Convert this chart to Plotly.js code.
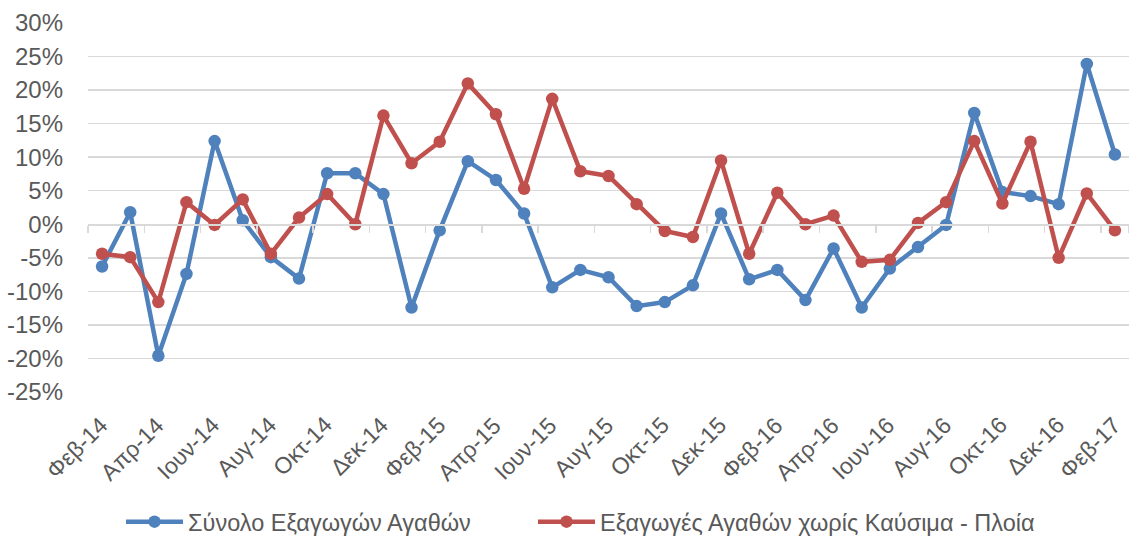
<!DOCTYPE html>
<html>
<head>
<meta charset="utf-8">
<script src="https://cdn.plot.ly/plotly-3.0.1.min.js"></script>
<style>
  html, body { margin: 0; padding: 0; background: #ffffff; }
  #chart { width: 1129px; height: 538px; }
</style>
</head>
<body>
<div id="chart"></div>
<script>
// Monthly export growth rates (%), Feb-14 to Feb-17
const months = [
  'Φεβ-14','Μαρ-14','Απρ-14','Μαϊ-14','Ιουν-14','Ιουλ-14','Αυγ-14','Σεπ-14','Οκτ-14','Νοε-14','Δεκ-14',
  'Ιαν-15','Φεβ-15','Μαρ-15','Απρ-15','Μαϊ-15','Ιουν-15','Ιουλ-15','Αυγ-15','Σεπ-15','Οκτ-15','Νοε-15','Δεκ-15',
  'Ιαν-16','Φεβ-16','Μαρ-16','Απρ-16','Μαϊ-16','Ιουν-16','Ιουλ-16','Αυγ-16','Σεπ-16','Οκτ-16','Νοε-16','Δεκ-16',
  'Ιαν-17','Φεβ-17'
];

const totalExports = [
  -6.3, 1.8, -19.6, -7.4, 12.4, 0.6, -4.9, -8.1, 7.6, 7.6, 4.5,
  -12.4, -0.9, 9.4, 6.6, 1.6, -9.4, -6.8, -7.9, -12.2, -11.6, -9.1, 1.6,
  -8.2, -6.8, -11.3, -3.6, -12.4, -6.6, -3.4, -0.1, 16.6, 4.8, 4.2, 3.0,
  23.9, 10.4
];

const exportsExFuelShips = [
  -4.4, -4.9, -11.6, 3.3, -0.1, 3.7, -4.4, 1.0, 4.5, 0.0, 16.2,
  9.1, 12.3, 21.0, 16.4, 5.3, 18.7, 7.9, 7.2, 3.0, -1.0, -1.9, 9.5,
  -4.4, 4.7, 0.0, 1.3, -5.6, -5.3, 0.2, 3.3, 12.4, 3.1, 12.3, -5.0,
  4.6, -0.9
];

const seriesNames = ['Σύνολο Εξαγωγών Αγαθών', 'Εξαγωγές Αγαθών χωρίς Καύσιμα - Πλοία'];
const seriesColors = ['#4f81bd', '#c0504d'];

const yTickVals = [30, 25, 20, 15, 10, 5, 0, -5, -10, -15, -20, -25];

const idx = months.map((_, i) => i);
const labelIdx = idx.filter(i => i % 2 === 0);
const boundaryIdx = labelIdx.map(i => i - 0.5).concat([months.length - 0.5]);

function lineTrace(name, values, color, legendId) {
  return {
    x: idx,
    y: values,
    name: name,
    legend: legendId,
    type: 'scatter',
    mode: 'lines+markers',
    line: { color: color, width: 4.5 },
    marker: { color: color, size: 12.5 },
    text: months,
    hovertemplate: '%{text}: %{y:.1f}%<extra></extra>'
  };
}

const traces = [
  lineTrace(seriesNames[0], totalExports, seriesColors[0], 'legend'),
  lineTrace(seriesNames[1], exportsExFuelShips, seriesColors[1], 'legend2'),
  // empty carrier so the zero-level category axis gets drawn
  { x: [], y: [], xaxis: 'x2', type: 'scatter', mode: 'lines', showlegend: false, hoverinfo: 'skip' }
];

const yMin = -25, yMax = 30;
const xRange = [-0.5, months.length - 0.5];
const font = 'Liberation Sans, Arial, sans-serif';
const textGrey = '#595959';

function legendBox(xPx) {
  return {
    orientation: 'h',
    x: xPx / 1129, xanchor: 'left', xref: 'container',
    y: 0.03, yanchor: 'middle', yref: 'container',
    font: { family: font, size: 23.5, color: textGrey },
    itemwidth: 57
  };
}

// Month labels under the plot, slanted at 45 degrees
const monthLabels = labelIdx.map(i => ({
  x: i, xref: 'x',
  y: 0, yref: 'paper',
  text: months[i],
  textangle: -45,
  showarrow: false,
  xanchor: 'right', yanchor: 'top',
  xshift: 13, yshift: -17,
  font: { family: font, size: 23, color: textGrey }
}));

const layout = {
  width: 1129,
  height: 538,
  paper_bgcolor: '#ffffff',
  plot_bgcolor: '#ffffff',
  margin: { l: 88, r: 0, t: 23, b: 146 },
  showlegend: true,
  legend: legendBox(121),
  legend2: legendBox(533),
  annotations: monthLabels,
  xaxis: {
    range: xRange,
    tickmode: 'array',
    tickvals: labelIdx,
    showticklabels: false,
    ticks: '',
    showgrid: false,
    zeroline: false,
    showline: false,
    fixedrange: true
  },
  // Category axis line at the 0% level, with ticks between every two months
  xaxis2: {
    overlaying: 'x',
    anchor: 'free',
    position: (0 - yMin) / (yMax - yMin),
    range: xRange,
    tickmode: 'array',
    tickvals: boundaryIdx,
    ticks: 'outside',
    ticklen: 7,
    tickwidth: 1.5,
    tickcolor: '#d9d9d9',
    showticklabels: false,
    showgrid: false,
    zeroline: false,
    showline: true,
    linecolor: '#d9d9d9',
    linewidth: 1.5,
    fixedrange: true
  },
  yaxis: {
    range: [yMin, yMax],
    tickmode: 'array',
    tickvals: yTickVals,
    ticktext: yTickVals.map(v => v + '%'),
    ticks: '',
    ticklabelstandoff: 24,
    showgrid: true,
    gridcolor: '#d9d9d9',
    gridwidth: 1.5,
    zeroline: false,
    showline: false,
    tickfont: { family: font, size: 24, color: textGrey },
    fixedrange: true
  }
};

Plotly.newPlot('chart', traces, layout, { displayModeBar: false, staticPlot: true });
</script>
</body>
</html>
